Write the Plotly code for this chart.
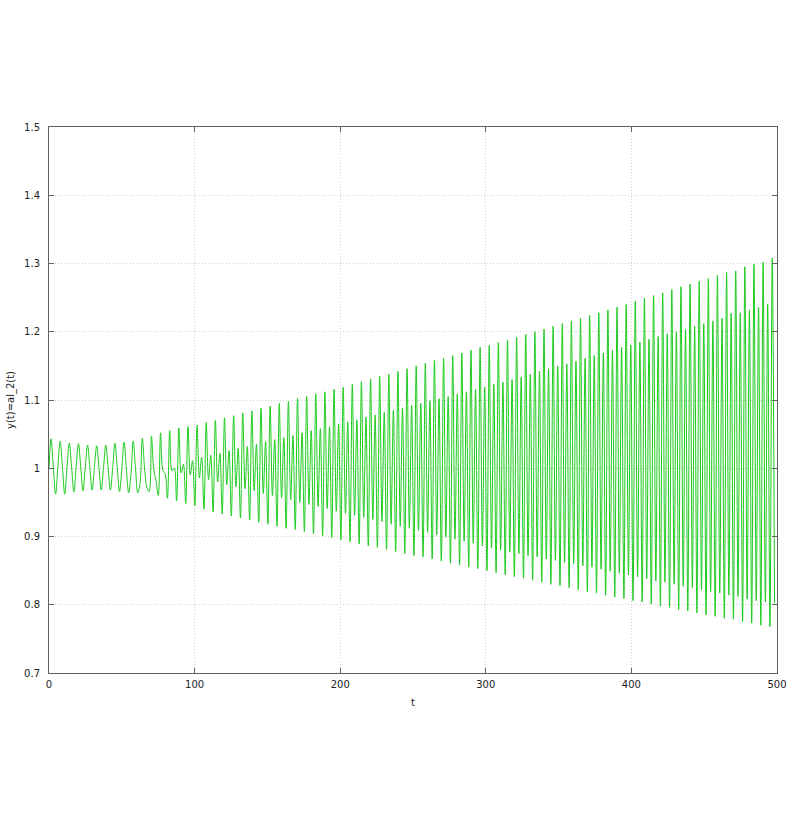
import plotly.graph_objects as go

# tall peak of each oscillation cycle (phase 0)
peak_tall = [1.043, 1.040, 1.037, 1.036, 1.034, 1.033, 1.034, 1.037, 1.038, 1.040,
             1.044, 1.047, 1.052, 1.055, 1.059, 1.061, 1.063,
             1.067, 1.070, 1.074, 1.077, 1.081, 1.084, 1.088, 1.091, 1.095, 1.098,
             1.102, 1.105, 1.109, 1.112, 1.116, 1.119, 1.123,
             1.127, 1.131, 1.135, 1.138, 1.142, 1.146, 1.150, 1.154, 1.158, 1.161,
             1.165, 1.169, 1.173, 1.177, 1.180, 1.184, 1.188,
             1.192, 1.196, 1.200, 1.204, 1.208, 1.212, 1.216, 1.220, 1.224, 1.228, 1.232,
             1.236, 1.240, 1.245, 1.249, 1.253, 1.257, 1.262, 1.266, 1.270, 1.274,
             1.278, 1.283, 1.287,
             1.289, 1.295, 1.299, 1.302, 1.308]

# value a quarter period after the tall peak (shallow trough later on)
trough_shallow = [1.002, 1.002, 1.002, 1.002, 1.001, 1.001, 1.001, 1.001, 1.000, 1.000,
                  0.999, 0.998, 0.997, 0.996, 0.993, 0.990, 0.986,
                  0.983, 0.980, 0.976, 0.973, 0.970, 0.967, 0.963, 0.960, 0.957, 0.954,
                  0.950, 0.947, 0.944, 0.941, 0.937, 0.934,
                  0.931, 0.928, 0.925, 0.922, 0.918, 0.915, 0.912, 0.909, 0.906, 0.902,
                  0.899, 0.896, 0.893, 0.890, 0.886, 0.883, 0.880,
                  0.877, 0.875, 0.872, 0.870, 0.867, 0.865, 0.862, 0.860, 0.857, 0.855, 0.852,
                  0.849, 0.846, 0.844, 0.841, 0.838, 0.835, 0.833, 0.830, 0.827, 0.825,
                  0.822, 0.819, 0.817, 0.814,
                  0.812, 0.808, 0.806, 0.804, 0.802]

# value half a period after the tall peak (early trough, later the short peak)
peak_short = [0.962, 0.962, 0.965, 0.967, 0.968, 0.968, 0.968, 0.966, 0.964, 0.964,
              0.972, 0.982, 0.992, 1.000, 1.006, 1.011, 1.016,
              1.019, 1.022, 1.026, 1.029, 1.032, 1.035, 1.039, 1.042, 1.045, 1.048,
              1.052, 1.055, 1.058, 1.061, 1.065, 1.068,
              1.071, 1.075, 1.078, 1.082, 1.085, 1.088, 1.092, 1.095, 1.099, 1.102,
              1.105, 1.109, 1.112, 1.116, 1.119, 1.123, 1.126,
              1.130, 1.134, 1.138, 1.142, 1.146, 1.150, 1.153, 1.157, 1.161, 1.165, 1.169,
              1.173, 1.177, 1.181, 1.185, 1.189, 1.193, 1.197, 1.200, 1.204, 1.208,
              1.212, 1.216, 1.220,
              1.227, 1.228, 1.232, 1.236, 1.240]

# value three quarters of a period after the tall peak (deep trough later on)
trough_deep = [1.002, 1.002, 1.002, 1.002, 1.001, 1.001, 1.000, 0.998, 0.990, 0.978,
               0.966, 0.960, 0.956, 0.952, 0.948, 0.945, 0.940,
               0.936, 0.933, 0.930, 0.927, 0.924, 0.921, 0.918, 0.915, 0.912, 0.910,
               0.907, 0.904, 0.901, 0.898, 0.895, 0.892,
               0.889, 0.886, 0.884, 0.881, 0.878, 0.875, 0.872, 0.870, 0.867, 0.864,
               0.861, 0.858, 0.855, 0.853, 0.850, 0.847, 0.844,
               0.841, 0.839, 0.836, 0.833, 0.830, 0.828, 0.825, 0.822, 0.819, 0.817, 0.814,
               0.811, 0.809, 0.806, 0.804, 0.801, 0.798, 0.796, 0.793, 0.791, 0.788,
               0.785, 0.783,
               0.780, 0.779, 0.775, 0.773, 0.770, 0.768]

t_start, y_start = 0.0, 1.0
t_first_peak = 1.4
period = 6.27

# put the samples in time order on a quarter-period grid
t = [t_start]
y = [y_start]
step = period / 4
n = 0
for k in range(len(peak_tall)):
    vals = [peak_tall[k], trough_shallow[k]]
    if k < len(peak_short):
        vals += [peak_short[k], trough_deep[k]]
    for v in vals:
        t.append(t_first_peak + n * step)
        y.append(v)
        n += 1

fig = go.Figure()
fig.add_trace(go.Scatter(x=t, y=y, mode="lines", line=dict(color="#1ecb1e", width=1, shape="spline"),
                         showlegend=False))

axis_style = dict(showline=True, linecolor="#606060", linewidth=1, mirror="ticks",
                  ticks="inside", ticklen=5, tickcolor="#606060",
                  showgrid=True, gridcolor="#cfcfcf", griddash="1px,2px", gridwidth=1,
                  zeroline=False, automargin=False,
                  tickfont=dict(family="DejaVu Sans", size=10, color="#222"))

fig.update_xaxes(range=[0, 500], dtick=100, ticklabelstandoff=2,
                 title=dict(text="t", standoff=9, font=dict(family="DejaVu Sans", size=10, color="#222")),
                 **axis_style)
fig.update_yaxes(range=[0.7, 1.5], dtick=0.1, ticklabelstandoff=6,
                 title=dict(text="y(t)=al_2(t)", standoff=7, font=dict(family="DejaVu Sans", size=10, color="#222")),
                 **axis_style)

fig.update_layout(width=793, height=827, margin=dict(l=49, r=16, t=127, b=154),
                  plot_bgcolor="white", paper_bgcolor="white",
                  font=dict(family="DejaVu Sans", size=10, color="#222"))

# drop the default 8px page margin so the figure fills the window
fig.write_html("out.html", config={"displayModeBar": False},
               post_script="document.body.style.margin='0';")
